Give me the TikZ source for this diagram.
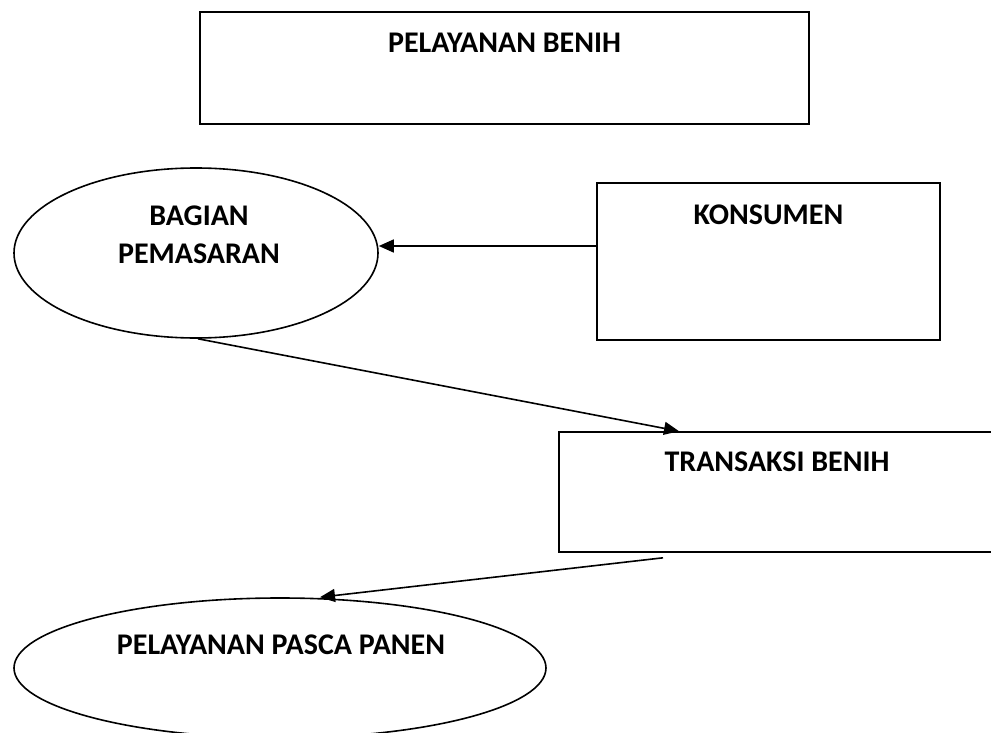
\documentclass[tikz,border=0pt]{standalone}
\usepackage{fontspec}
\setmainfont{Carlito}
\usetikzlibrary{shapes.geometric,arrows.meta}
\begin{document}
\begin{tikzpicture}[x=1pt,y=-1pt,
  box/.style={draw=black,line width=1.6pt,rectangle,inner sep=0pt},
  oval/.style={draw=black,line width=1.6pt,ellipse,inner sep=0pt},
  lbl/.style={font=\fontsize{30}{38}\selectfont\bfseries,inner sep=0pt,align=center},
  arr/.style={line width=1.6pt,-{Triangle[length=15pt,width=13pt]}}]
\useasboundingbox (0,0) rectangle (991,733);
\clip (0,0) rectangle (991,733);
% shapes
\node[box,minimum width=609pt,minimum height=112pt] (pb) at (504.5,68) {};
\node[oval,minimum width=364pt,minimum height=170pt] (bag) at (196,253) {};
\node[box,minimum width=343pt,minimum height=157pt] (kon) at (768.5,261.5) {};
\node[box,minimum width=460pt,minimum height=120pt] (tr) at (789,492) {};
\node[oval,minimum width=532pt,minimum height=140pt] (pas) at (280,668) {};
% labels
\node[lbl] (pbt) at (504.5,43) {PELAYANAN BENIH};
\node[lbl] (bagt) at (199,235) {BAGIAN\\PEMASARAN};
\node[lbl] (kont) at (768.5,215) {KONSUMEN};
\node[lbl] (trt) at (777,462) {TRANSAKSI BENIH};
\node[lbl] (past) at (281,645) {PELAYANAN PASCA PANEN};
% connectors
\draw[arr] ([yshift=15.5pt]kon.west) -- ([yshift=7pt]bag.east);
\draw[arr] ([xshift=2pt]bag.south) -- ([xshift=-110pt]tr.north);
\draw[arr] ([xshift=-126pt,yshift=-5pt]tr.south) -- ([xshift=40pt]pas.north);
\end{tikzpicture}
\end{document}
